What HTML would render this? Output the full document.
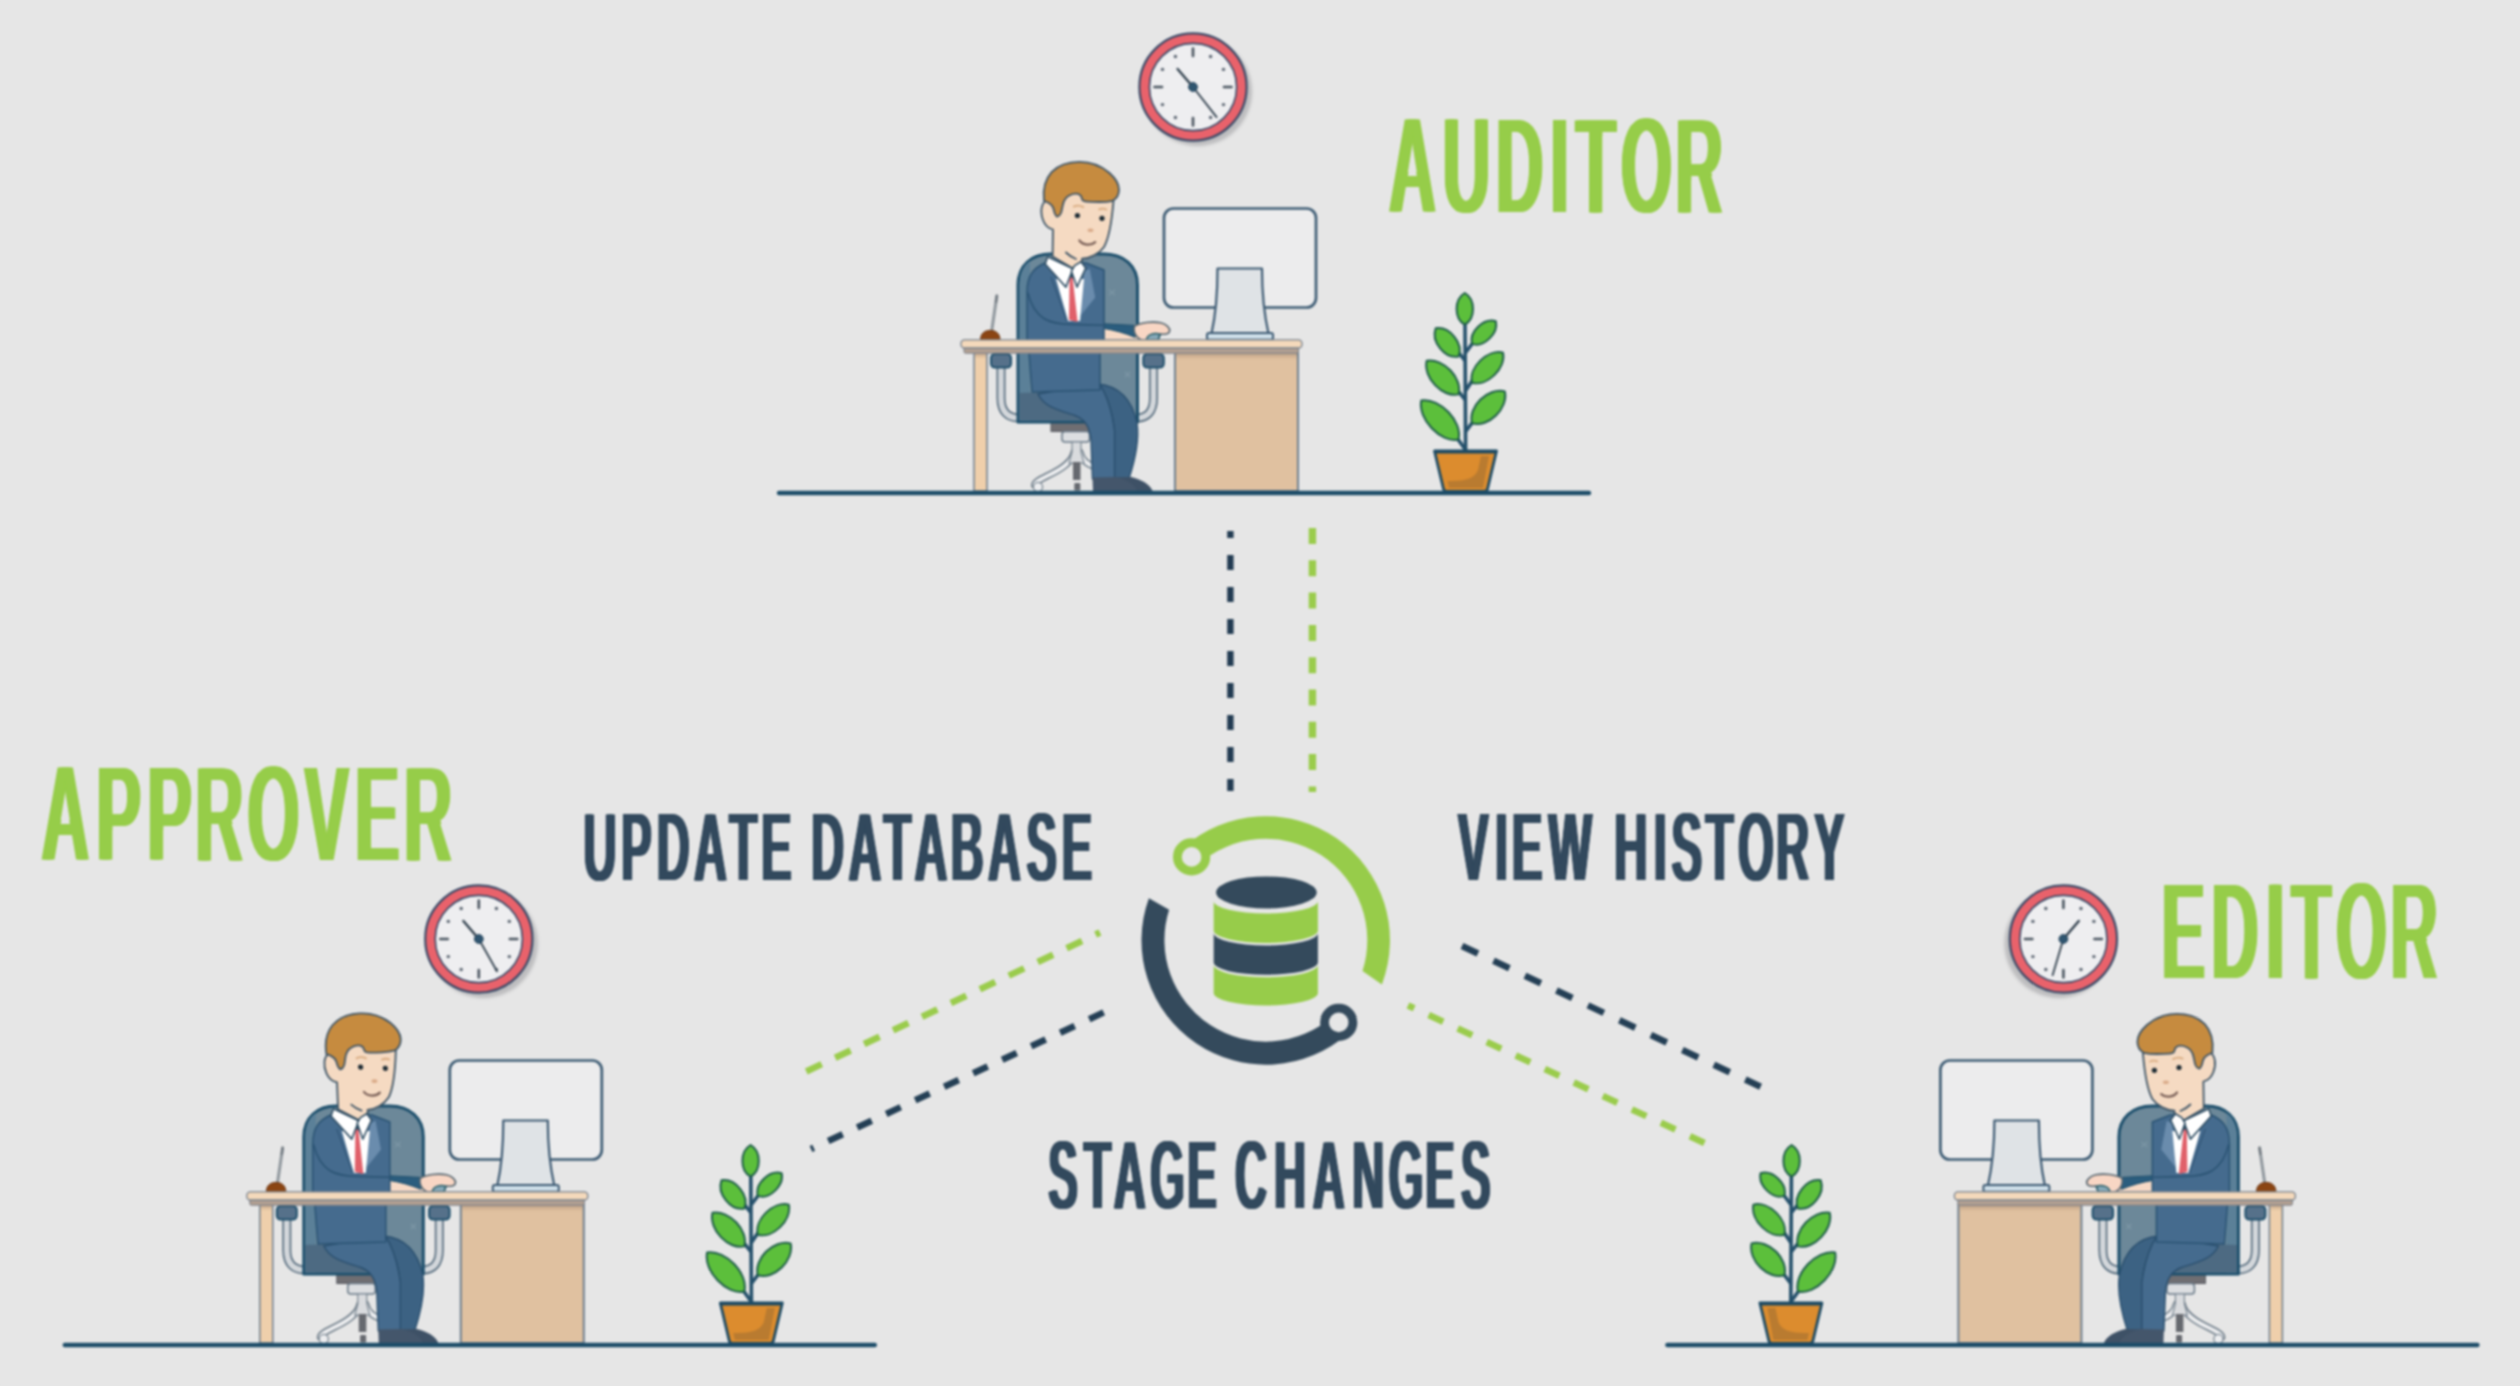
<!DOCTYPE html>
<html lang="en">
<head>
<meta charset="utf-8">
<title>Roles: Auditor, Approver, Editor</title>
<style>
html,body{margin:0;padding:0;background:#e6e6e6;}
body{width:2520px;height:1386px;overflow:hidden;position:relative;}
svg{position:absolute;left:0;top:0;display:block;filter:blur(0.8px);}
text{font-family:"Liberation Sans",sans-serif;font-weight:bold;font-size:100px;}
.tg{filter:url(#thickG);}
.td{filter:url(#thickD);}
</style>
</head>
<body>
<svg width="2520" height="1386" viewBox="0 0 2520 1386">
<defs>
  <filter id="thickG" x="-3%" y="-10%" width="106%" height="120%">
    <feOffset in="SourceGraphic" dx="0" dy="-1.8" result="u"/>
    <feOffset in="SourceGraphic" dx="0" dy="1.8" result="d"/>
    <feComposite in="u" in2="d" operator="in" result="v"/>
    <feOffset in="v" dx="-2" dy="0" result="a"/>
    <feOffset in="v" dx="2" dy="0" result="b"/>
    <feMerge><feMergeNode in="a"/><feMergeNode in="b"/><feMergeNode in="v"/></feMerge>
  </filter>
  <filter id="thickD" x="-3%" y="-10%" width="106%" height="120%">
    <feOffset in="SourceGraphic" dx="0" dy="-1.3" result="u"/>
    <feOffset in="SourceGraphic" dx="0" dy="1.3" result="d"/>
    <feComposite in="u" in2="d" operator="in" result="v"/>
    <feOffset in="v" dx="-1.5" dy="0" result="a"/>
    <feOffset in="v" dx="1.5" dy="0" result="b"/>
    <feMerge><feMergeNode in="a"/><feMergeNode in="b"/><feMergeNode in="v"/></feMerge>
  </filter>
  <linearGradient id="deskShade" x1="0" y1="0" x2="0" y2="1"><stop offset="0" stop-color="#a88f78" stop-opacity="0.75"/><stop offset="1" stop-color="#c9a98a" stop-opacity="0"/></linearGradient>
  <filter id="soft" x="-20%" y="-20%" width="140%" height="140%"><feGaussianBlur stdDeviation="1.5"/></filter>

  <!-- ============ CLOCK (hands drawn for the un-mirrored scene) ============ -->
  <g id="clock">
    <circle cx="1197.5" cy="91.5" r="54.5" fill="#bdbdbf" filter="url(#soft)"/>
    <circle cx="1193" cy="87" r="53.6" fill="#e9626b" stroke="#3c4b68" stroke-width="2.2"/>
    <circle cx="1193" cy="87" r="43.6" fill="#eeeef0" stroke="#3c4b68" stroke-width="1.6"/>
    <g stroke="#4a5560" stroke-width="2.6" stroke-linecap="round">
      <line x1="1193" y1="48.5" x2="1193" y2="56"/>
      <line x1="1193" y1="118" x2="1193" y2="125.5"/>
      <line x1="1154.5" y1="87" x2="1162" y2="87"/>
      <line x1="1224" y1="87" x2="1231.5" y2="87"/>
    </g>
    <g fill="#5a6470">
      <circle cx="1210.6" cy="56.5" r="1.7"/><circle cx="1223.5" cy="69.4" r="1.7"/>
      <circle cx="1223.5" cy="104.6" r="1.7"/><circle cx="1210.6" cy="117.5" r="1.7"/>
      <circle cx="1175.4" cy="117.5" r="1.7"/><circle cx="1162.5" cy="104.6" r="1.7"/>
      <circle cx="1162.5" cy="69.4" r="1.7"/><circle cx="1175.4" cy="56.5" r="1.7"/>
    </g>
  </g>
  <g id="hub">
    <line x1="1193" y1="87" x2="1177.6" y2="69" stroke="#33424f" stroke-width="2.4" stroke-linecap="round"/>
    <circle cx="1193" cy="87" r="4.4" fill="#2f5570" stroke="#27455c" stroke-width="1"/>
  </g>

  <!-- ============ PLANT ============ -->
  <g id="plant">
    <g stroke="#24506b" stroke-width="3.6" stroke-linecap="round" fill="none">
      <path d="M1465,322 L1465.6,452"/>
      <path d="M1466,352 L1472,344"/><path d="M1466,390 L1472,381"/><path d="M1466,431 L1472,423"/>
      <path d="M1464.5,360 L1459,353"/><path d="M1464.5,399 L1459,392"/><path d="M1465,449 L1457,438"/>
    </g>
    <g fill="#5cbf3b" stroke="#1f5e49" stroke-width="2" stroke-linejoin="round">
      <path d="M1464.8,324.6 C1475.7,318.9 1475.7,299.3 1464.8,293.0 C1453.9,299.3 1453.9,318.9 1464.8,324.6 Z"/>
      <path d="M1472.0,343.9 C1483.8,347.7 1498.6,333.6 1495.8,321.2 C1483.5,317.9 1468.8,331.9 1472.0,343.9 Z"/>
      <path d="M1472.0,382.7 C1487.0,387.0 1506.2,368.3 1503.0,352.6 C1487.4,348.9 1468.2,367.6 1472.0,382.7 Z"/>
      <path d="M1472.0,423.3 C1488.3,428.2 1508.6,408.4 1504.8,391.4 C1487.9,387.1 1467.6,406.9 1472.0,423.3 Z"/>
      <path d="M1458.5,356.5 C1463.9,343.7 1449.8,326.3 1435.7,328.3 C1430.8,341.6 1444.9,359.1 1458.5,356.5 Z"/>
      <path d="M1458.5,394.4 C1463.1,378.6 1443.4,357.8 1426.7,360.8 C1422.8,377.3 1442.5,398.1 1458.5,394.4 Z"/>
      <path d="M1458.5,439.5 C1463.0,421.8 1440.0,397.5 1421.3,400.4 C1417.5,418.9 1440.6,443.2 1458.5,439.5 Z"/>
    </g>
    <path d="M1434.5,451 L1496.5,451 L1487.5,489 C1487,491 1486,491.5 1484,491.5 L1447,491.5 C1445,491.5 1444,491 1443.5,489 Z" fill="#dc8c2e" stroke="#1d4a63" stroke-width="2.8" stroke-linejoin="round"/>
    <path d="M1489,456 L1483,488 L1449,488 L1447.5,481 C1462,481 1474,480 1478,470 L1481,456 Z" fill="#b97b30"/>
    <path d="M1434.5,451 L1496.5,451 L1495.8,453.6 L1435.2,453.6 Z" fill="#1d4a63"/>
  </g>

  <!-- ============ OFFICE SCENE (top-scene page coordinates) ============ -->
  <g id="sceneA">
    <use href="#clock"/>
    <use href="#plant"/>

    <!-- monitor -->
    <rect x="1164" y="208.5" width="152" height="99" rx="9.5" fill="#ececed" stroke="#3f5d75" stroke-width="2.7"/>
    <path d="M1217.5,268.5 L1262,268.5 C1262,295 1264.5,316 1268.5,333.5 L1211.5,333.5 C1215.5,316 1217.5,295 1217.5,268.5 Z" fill="#dfe3e6" stroke="#3d5a73" stroke-width="2.2" stroke-linejoin="round"/>
    <rect x="1207" y="333" width="66" height="6.8" rx="2" fill="#cfe0ea" stroke="#3d5a73" stroke-width="2"/>

    <!-- chair base -->
    <g fill="none" stroke-linecap="round">
      <path d="M1074,452 C1072,463 1060,470 1047,476 C1039,480 1035,482 1034.5,485" stroke="#6f7d89" stroke-width="7"/>
      <path d="M1074,452 C1072,463 1060,470 1047,476 C1039,480 1035,482 1034.5,485" stroke="#ecedef" stroke-width="4"/>
      <path d="M1080,452 C1082,461 1088,465 1096,467" stroke="#6f7d89" stroke-width="7"/>
      <path d="M1080,452 C1082,461 1088,465 1096,467" stroke="#ecedef" stroke-width="4"/>
    </g>
    <circle cx="1038" cy="487" r="4.6" fill="#ecedef" stroke="#7b8893" stroke-width="1.3"/>
    <rect x="1051" y="422" width="38.5" height="9.5" fill="#6f6e72" stroke="#575a62" stroke-width="1"/>
    <rect x="1062" y="431.5" width="27.5" height="10.5" rx="3" fill="#dcdee1" stroke="#6a7a88" stroke-width="1.5"/>
    <path d="M1072,442 L1081,442 L1081,452 L1084,463 L1069,463 L1072,452 Z" fill="#d9dbde" stroke="#7b8893" stroke-width="1.2"/>
    <rect x="1073" y="462" width="7.5" height="18" fill="#66696f"/>
    <rect x="1074.3" y="483" width="6" height="7.6" rx="1" fill="#66696f"/>

    <!-- armrest tubes -->
    <g fill="none">
      <path d="M1001,366 L1001,398 C1001,412 1008,418 1019,418" stroke="#5a6f80" stroke-width="9"/>
      <path d="M1001,366 L1001,398 C1001,412 1008,418 1019,418" stroke="#d3d7db" stroke-width="5.6"/>
      <path d="M1153.5,366 L1153.5,398 C1153.5,412 1147,418 1137,418" stroke="#5a6f80" stroke-width="9"/>
      <path d="M1153.5,366 L1153.5,398 C1153.5,412 1147,418 1137,418" stroke="#d3d7db" stroke-width="5.6"/>
    </g>

    <!-- chair back -->
    <path d="M1018,422 L1018,285 C1018,265 1032,254 1050,254 L1104,254 C1124,254 1137.5,266 1137.5,285 L1137.5,422 Z" fill="#6c8899" stroke="#1d4f6c" stroke-width="3" stroke-linejoin="round"/>
    <path d="M1019.5,420.5 L1019.5,285 C1019.5,274 1023,266 1030,261 L1030,420.5 Z" fill="#5b8098"/>
    <path d="M1019.5,393 L1100,390 L1100,420.5 L1019.5,420.5 Z" fill="#4d6a82"/>
    <!-- cushion stitches -->
    <g stroke="#7d97a6" stroke-width="1.2" fill="none"><path d="M1109,290 l6,5 m0,-5 l-6,5"/><path d="M1125,372 l5,5 m0,-5 l-5,5"/></g>

    <!-- far leg + shoe -->
    <path d="M1098,384 C1119,386 1132,400 1137,423 C1139.5,440 1135,460 1129,478.5 L1112,478.5 L1114,431 C1113,414 1108,399 1098,392 Z" fill="#3c6283" stroke="#2a4f6e" stroke-width="1.4" stroke-linejoin="round"/>
    <path d="M1112,477.5 L1131,477 C1141,479.5 1150,484 1152.5,491 L1112,491 Z" fill="#3e5166"/>
    <!-- near leg + shoe -->
    <path d="M1038,394 L1099,383 C1107,395 1112,410 1114.6,431 L1114.6,478.5 L1092.5,479 L1091,440 C1089.5,426 1085,419.5 1075,415.5 C1059,410.5 1044,407 1038,394 Z" fill="#456b8e" stroke="#2a4f6e" stroke-width="1.4" stroke-linejoin="round"/>
    <path d="M1092.5,477.5 L1116,477 C1126,479.5 1135,484 1137,491 L1093,491 Z" fill="#44566b"/>

    <!-- far sleeve & hands -->
    <path d="M1103.5,328 L1134,332 L1141,339.8 L1103.5,339.8 Z" fill="#f7dac6"/>
    <path d="M1103,323.8 L1134,325.4 L1135.2,337.4 C1125,333 1114,330 1103.5,328.4 Z" fill="#2b5d7e" stroke="#1f4e6b" stroke-width="1"/>
    <path d="M1134.2,326.6 C1140,322.4 1153,321.2 1160.5,322.8 C1166.5,324.3 1170.3,328 1169.6,331.2 C1169,334.2 1164.5,334.6 1160.5,334 L1158,339.8 L1141,339.8 C1135.8,337.6 1133.4,332 1134.2,326.6 Z" fill="#f8d6c4" stroke="#55656f" stroke-width="1.6" stroke-linejoin="round"/>
    <path d="M1146.5,339.8 C1147,334.5 1154,332.6 1160,334.2 L1158.3,339.8 Z" fill="#86a9b8" stroke="#245a66" stroke-width="1.5" stroke-linejoin="round"/>

    <!-- torso -->
    <path d="M1027,292 C1027,276 1033,268 1046,262.5 L1086,263 L1104,270 L1104,340 L1100,352 L1100,390 L1032,392 L1029,352 L1027,340 Z" fill="#456b8e" stroke="#2a5373" stroke-width="1.5" stroke-linejoin="round"/>
    <path d="M1084.9,271.2 L1089.7,268.8 L1095.2,297.4 L1081,315 L1080.2,292.6 Z" fill="#6a8cad"/>
    <path d="M1056,279 L1084,279 L1080,321 L1068,321 Z" fill="#ffffff"/>
    <path d="M1051,277 L1067,321" stroke="#34597a" stroke-width="1.4" fill="none"/>
    <!-- tie -->
    <path d="M1069.6,277 L1072.6,277 L1077.6,322 L1069,320 Z" fill="#e0606a"/>
    <path d="M1068.6,269.5 L1073.2,269.5 L1073.6,277.5 L1069.2,277.5 Z" fill="#1f5063"/>
    <!-- near arm line -->
    <path d="M1027.8,292.6 C1030,302 1034,312 1044.4,318.8 C1052,323.5 1060,324.4 1071.4,324.4 L1103.2,325.2" stroke="#2a5373" stroke-width="1.6" fill="none"/>

  </g>
  <g id="head">
    <!-- neck + face -->
    <path d="M1050,190 L1047,200 C1041,203 1040,212 1043,220 C1045,225.5 1049,228.5 1053,229.5 L1052.6,256.5 L1073,268.5 L1082,262 L1082,258.7 C1090,258.5 1099,254 1104,247 C1109,238 1111.5,225 1113.5,201 L1112,190 Z" fill="#f5dac2" stroke="#3f5566" stroke-width="1.8" stroke-linejoin="round"/>
    <path d="M1066,252.5 C1069,255.5 1072,257.5 1076,259" stroke="#3f5566" stroke-width="1.8" fill="none" stroke-linecap="round"/>
    <!-- face details -->
    <circle cx="1077.4" cy="215.5" r="2.6" fill="#1c2a33"/>
    <circle cx="1102" cy="218.3" r="2.6" fill="#1c2a33"/>
    <path d="M1073.8,206.6 C1077,205 1080,205.4 1083.3,207.1" stroke="#d8ab80" stroke-width="1.8" fill="none" stroke-linecap="round"/>
    <path d="M1099.2,209.3 C1102,208.2 1104,208.4 1106.3,209.5" stroke="#d8ab80" stroke-width="1.8" fill="none" stroke-linecap="round"/>
    <ellipse cx="1090.5" cy="230.3" rx="3" ry="1.8" fill="#d9aa88"/>
    <path d="M1079.4,240.5 C1083,245.5 1091,246 1095.2,242.1" stroke="#7a6058" stroke-width="2.2" fill="none" stroke-linecap="round"/>
    <!-- hair -->
    <path d="M1044,200.8 C1042.8,190 1045,179.5 1051.6,172.2 C1058.5,165 1068.5,161.9 1079.4,161.9 C1091,161.9 1101.5,166 1109.5,173 C1114.5,177.5 1119,183.5 1119,189.7 C1119,194.5 1116.5,198.5 1112.7,200.8 C1108,201.8 1103,202 1099.2,202 C1095,202 1091,201.9 1087.3,201.6 C1084.5,201.4 1083,200.8 1082.5,200 C1081.8,198.5 1081.5,197 1081,196 C1079.8,194.3 1078,193.7 1076.2,193.7 C1074,193.7 1071.8,194.2 1069.8,195.2 C1067.8,196.2 1066.2,197.6 1065.1,199.2 C1063.8,201 1063.1,203.3 1062.7,205.6 C1062.2,208 1061.8,210.5 1061.1,212.7 C1060.3,214.8 1058.9,216.2 1057.1,216.7 C1056,215.9 1055.3,214.8 1054.8,213.5 C1054.1,211.7 1053.8,209.7 1053.2,207.9 C1052.4,205.9 1051,204.3 1049.2,203.2 C1047.6,202.2 1045.7,201.4 1044,200.8 Z" fill="#c68b3f" stroke="#3f5566" stroke-width="1.8" stroke-linejoin="round"/>

  </g>
  <g id="sceneB">
    <!-- collar -->
    <path d="M1047.6,256.9 L1073,268.8 L1065.9,287.1 L1045.2,264 Z" fill="#ffffff" stroke="#2f4d63" stroke-width="1.6" stroke-linejoin="round"/>
    <path d="M1074.6,265.6 L1081,261.7 L1085.7,268 L1077,287.1 L1071.4,271.2 Z" fill="#ffffff" stroke="#2f4d63" stroke-width="1.6" stroke-linejoin="round"/>
    <!-- armrest pads -->
    <rect x="991" y="354" width="20" height="13.6" rx="4" fill="#56718a" stroke="#1f4f6b" stroke-width="2"/>
    <rect x="1143.3" y="354" width="20.5" height="13.6" rx="4" fill="#56718a" stroke="#1f4f6b" stroke-width="2"/>

    <!-- pen holder -->
    <line x1="991.6" y1="331.5" x2="996.8" y2="296" stroke="#8f979d" stroke-width="3" stroke-linecap="round"/>
    <line x1="996" y1="302" x2="996.9" y2="295.5" stroke="#6f777e" stroke-width="2.2" stroke-linecap="round"/>
    <path d="M980.5,340 C980.5,333 985,330.4 990.3,330.4 C995.5,330.4 1000,333 1000,340 Z" fill="#8b4513" stroke="#6b3410" stroke-width="1"/>

    <!-- desk -->
    <rect x="974" y="352" width="13" height="139" fill="#efcfab" stroke="#6f7f8e" stroke-width="1.5"/>
    <rect x="1175" y="352" width="123" height="139" fill="#e0c1a0" stroke="#6f7f8e" stroke-width="2"/>
    <rect x="1176" y="353" width="121" height="7" fill="url(#deskShade)"/>
    <rect x="975" y="353" width="11" height="6" fill="url(#deskShade)"/>
    <rect x="964" y="346" width="334.5" height="7.2" rx="1.5" fill="#b3a091" stroke="#7b808a" stroke-width="1"/>
    <rect x="961" y="339.8" width="341" height="8.2" rx="3.6" fill="#f4d9bb" stroke="#77818d" stroke-width="1.3"/>
    <!-- floor line -->
    <line x1="779" y1="493" x2="1589" y2="493" stroke="#1c4c68" stroke-width="4.4" stroke-linecap="round"/>
  </g>
</defs>

<rect x="0" y="0" width="2520" height="1386" fill="#e6e6e6"/>

<g>
  <use href="#sceneA"/><use href="#head"/><use href="#sceneB"/>
  <line x1="1193" y1="87" x2="1216.6" y2="117.1" stroke="#33424f" stroke-width="1.8" stroke-linecap="round"/>
  <use href="#hub"/>
</g>
<g transform="translate(-714.2,852)">
  <use href="#sceneA"/><use href="#head" transform="rotate(-3.2 1068 262)"/><use href="#sceneB"/>
  <line x1="1193" y1="87" x2="1211.2" y2="119.2" stroke="#33424f" stroke-width="1.8" stroke-linecap="round"/>
  <use href="#hub"/>
</g>
<g transform="translate(3256.4,852) scale(-1,1)">
  <use href="#sceneA"/><use href="#head"/><use href="#sceneB"/>
  <line x1="1193" y1="87" x2="1203.8" y2="123.2" stroke="#33424f" stroke-width="1.8" stroke-linecap="round"/>
  <use href="#hub"/>
</g>

<!-- connectors -->
<g fill="none" stroke-width="6.6">
  <line x1="1230.4" y1="531" x2="1230.4" y2="791" stroke="#223b52" stroke-dasharray="15 17" stroke-dashoffset="8" stroke-width="6.4"/>
  <line x1="1312.4" y1="528" x2="1312.4" y2="792" stroke="#9acc4c" stroke-dasharray="16 16.3" stroke-width="7.4"/>
  <line x1="806.3" y1="1071.4" x2="1100" y2="932.5" stroke="#9acc4c" stroke-dasharray="17 15"/>
  <line x1="811" y1="1149" x2="1104.5" y2="1012" stroke="#243f55" stroke-dasharray="16 16" stroke-dashoffset="13"/>
  <line x1="1462" y1="946" x2="1760.6" y2="1086.8" stroke="#243f55" stroke-dasharray="17.6 17.2"/>
  <line x1="1408" y1="1005.5" x2="1705.6" y2="1143.6" stroke="#9acc4c" stroke-dasharray="16 16" stroke-dashoffset="9.2"/>
</g>

<!-- database icon -->
<g id="dbicon">
  <path d="M1183.2,847.6 A124.2,124.2 0 0 1 1381.9,984.4 L1362.5,971 A101.4,101.4 0 0 0 1198.3,864.6 Z" fill="#97cc4a"/>
  <circle cx="1191.6" cy="856.9" r="14.2" fill="#e6e6e6" stroke="#97cc4a" stroke-width="8.8"/>
  <path d="M1348.3,1033.2 A124.2,124.2 0 0 1 1148.9,898.2 L1169.1,909.8 A101.4,101.4 0 0 0 1333.1,1016.1 Z" fill="#344a5c"/>
  <circle cx="1338.7" cy="1022.4" r="14.2" fill="#e6e6e6" stroke="#344a5c" stroke-width="8.8"/>
  <ellipse cx="1266.4" cy="892.4" rx="50.3" ry="16" fill="#344a5c"/>
  <path d="M1213.7,901 A52.1,12.5 0 0 0 1317.9,901 L1317.9,930.4 A52.1,12.5 0 0 1 1213.7,930.4 Z" fill="#97cc4a"/>
  <path d="M1213.7,933 A52.1,12.5 0 0 0 1317.9,933 L1317.9,962.3 A52.1,12.5 0 0 1 1213.7,962.3 Z" fill="#344a5c"/>
  <path d="M1213.7,964.8 A52.1,12.5 0 0 0 1317.9,964.8 L1317.9,993 A52.1,12.5 0 0 1 1213.7,993 Z" fill="#97cc4a"/>
</g>

<!-- labels -->
<g class="tg"><text transform="scale(0.6548,1.3895)" x="2121.0 2203.3 2284.7 2367.9 2406.4 2475.7 2558.9" y="154.22" fill="#96cd48">AUDITOR</text></g>
<g class="tg"><text transform="scale(0.6657,1.3866)" x="62.0 145.0 221.1 293.3 371.8 457.4 533.3 606.9" y="621.72" fill="#96cd48">APPROVER</text></g>
<g class="tg"><text transform="scale(0.6485,1.4041)" x="3333.5 3410.1 3494.6 3533.5 3602.5 3686.7" y="697.83" fill="#96cd48">EDITOR</text></g>
<g class="td"><text transform="scale(0.4550,0.9797)" x="1281.2 1364.1 1442.4 1524.2 1601.8 1672.0 1682.0 1781.7 1863.7 1940.7 2008.9 2088.3 2170.1 2255.2 2332.5" y="899.40" fill="#33495d">UPDATE DATABASE</text></g>
<g class="td"><text transform="scale(0.4594,0.9797)" x="3172.4 3253.1 3289.5 3369.5 3379.5 3512.7 3599.0 3637.4 3711.6 3782.0 3865.0 3947.7" y="898.89" fill="#33495d">VIEW HISTORY</text></g>
<g class="td"><text transform="scale(0.4427,0.9753)" x="2366.7 2447.4 2514.8 2596.9 2680.8 2690.8 2788.5 2876.7 2964.2 3053.7 3136.0 3218.6 3299.0" y="1239.43" fill="#33495d">STAGE CHANGES</text></g>
</svg>
</body>
</html>
